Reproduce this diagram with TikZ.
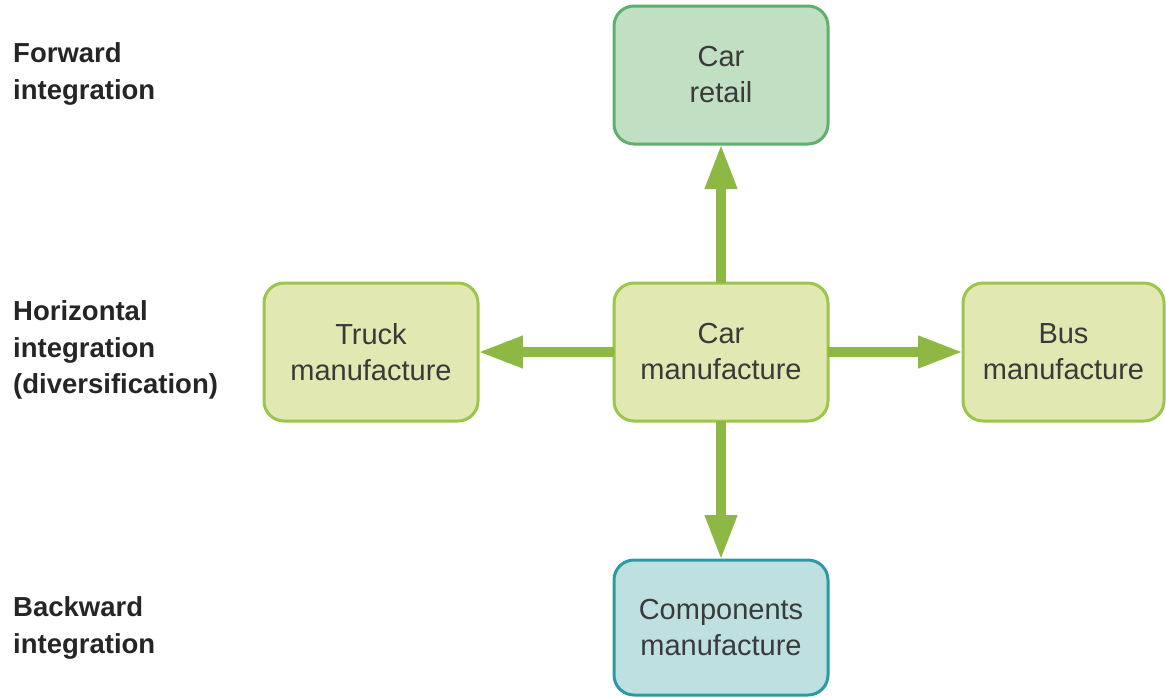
\documentclass[tikz,border=0pt]{standalone}
\usepackage{fontspec}
\setmainfont{Liberation Sans}
\usetikzlibrary{arrows.meta}
\definecolor{retailfill}{HTML}{C1DFC3}
\definecolor{retailedge}{HTML}{5FB06C}
\definecolor{mfgfill}{HTML}{E2E8B1}
\definecolor{mfgedge}{HTML}{9CC64B}
\definecolor{compfill}{HTML}{BFE0E0}
\definecolor{compedge}{HTML}{2C9AA2}
\definecolor{arrowgreen}{HTML}{8DB843}
\definecolor{boxtext}{HTML}{3A3A3A}
\definecolor{labeltext}{HTML}{252525}
\begin{document}
\begin{tikzpicture}[x=1pt,y=-1pt,
  box/.style={rounded corners=20pt, line width=3pt, align=center,
    minimum width=214pt, minimum height=138pt, inner sep=0pt, outer sep=0pt,
    text=boxtext, font=\fontsize{29}{36}\selectfont},
  mfg/.style={box, fill=mfgfill, draw=mfgedge},
  retail/.style={box, fill=retailfill, draw=retailedge},
  comp/.style={box, fill=compfill, draw=compedge},
  tag/.style={anchor=west, align=left, inner sep=0pt, text=labeltext,
    font=\bfseries\fontsize{27.5}{36.5}\selectfont},
  flow/.style={draw=arrowgreen, line width=10pt,
    -{Triangle[length=45pt,width=30pt]}}
]
\useasboundingbox (0,0) rectangle (1166,697);

% integration labels
\node[tag] (fwd) at (13,74) {Forward\\integration};
\node[tag] (hor) at (13,350) {Horizontal\\integration\\(diversification)};
\node[tag] (bwd) at (13,628) {Backward\\integration};

% business boxes
\node[retail] (retail) at (721,75) {Car\\retail};
\node[mfg] (car) at (721,352) {Car\\manufacture};
\node[mfg] (truck) at (371,352) {Truck\\manufacture};
\node[mfg, minimum width=201pt] (bus) at (1063.5,352) {Bus\\manufacture};
\node[comp, minimum height=135pt] (comp) at (721,627.5) {Components\\manufacture};

% directions of integration
\draw[flow] (car.north) -- (retail.south);
\draw[flow] (car.west) -- (truck.east);
\draw[flow] (car.east) -- (bus.west);
\draw[flow] (car.south) -- (comp.north);
\end{tikzpicture}
\end{document}
